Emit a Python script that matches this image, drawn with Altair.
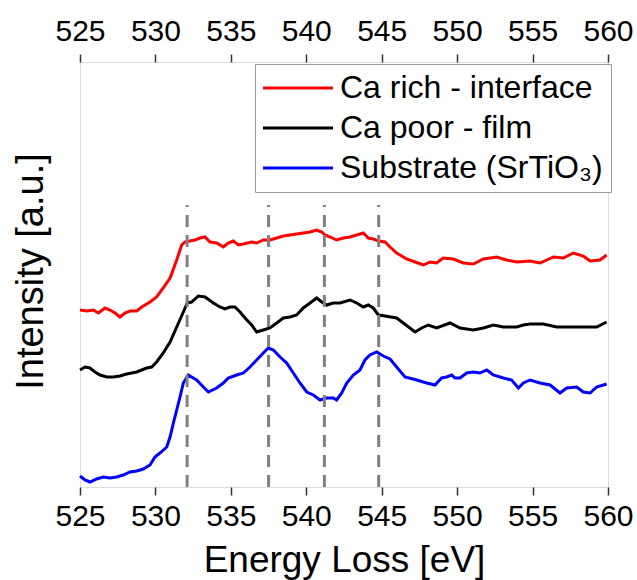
import altair as alt
import pandas as pd

FONT = "Liberation Sans"

# ---- data ----
series_names = ["Ca rich - interface", "Ca poor - film", "Substrate (SrTiO₃)"]
series_colors = ["#ff0000", "#000000", "#0000ff"]

red_energy = [525.00, 525.44, 525.88, 526.22, 526.66, 526.99, 527.32, 527.65, 527.98, 528.31,
              528.76, 529.09, 529.64, 530.08, 530.52, 530.97, 531.41, 531.74, 531.96, 532.29,
              532.62, 532.95, 533.29, 533.62, 534.06, 534.50, 534.83, 535.16, 535.50, 535.83,
              536.38, 536.71, 537.15, 537.59, 538.04, 538.48, 538.92, 539.36, 539.80, 540.25,
              540.69, 541.02, 541.24, 541.57, 542.01, 542.46, 542.90, 543.34, 543.78, 544.11,
              544.44, 544.78, 545.22, 545.55, 545.99, 546.65, 547.21, 547.76, 548.20, 548.64,
              549.08, 549.75, 550.41, 551.07, 551.74, 552.62, 553.28, 553.95, 554.83, 555.49,
              556.38, 557.04, 557.70, 558.36, 558.81, 559.47, 559.91]
red_intensity = [1.77, 1.76, 1.77, 1.74, 1.79, 1.77, 1.74, 1.70, 1.74, 1.76,
                 1.76, 1.80, 1.85, 1.90, 1.99, 2.09, 2.27, 2.42, 2.45, 2.46,
                 2.47, 2.49, 2.50, 2.45, 2.44, 2.40, 2.44, 2.46, 2.42, 2.43,
                 2.45, 2.44, 2.47, 2.47, 2.49, 2.51, 2.52, 2.53, 2.54, 2.55,
                 2.57, 2.55, 2.52, 2.50, 2.47, 2.49, 2.50, 2.52, 2.54, 2.49,
                 2.48, 2.46, 2.45, 2.40, 2.34, 2.28, 2.25, 2.22, 2.25, 2.24,
                 2.29, 2.28, 2.24, 2.23, 2.28, 2.30, 2.27, 2.25, 2.26, 2.24,
                 2.30, 2.29, 2.34, 2.31, 2.26, 2.27, 2.32]

black_energy = [525.00, 525.33, 525.66, 525.99, 526.33, 526.77, 527.21, 527.65, 528.09, 528.42,
                528.76, 529.09, 529.42, 529.75, 530.08, 530.52, 530.97, 531.41, 531.85, 532.11,
                532.40, 532.84, 533.29, 533.84, 534.28, 534.61, 534.94, 535.27, 535.61, 535.94,
                536.38, 536.71, 537.15, 537.59, 538.04, 538.48, 538.92, 539.36, 539.80, 540.25,
                540.69, 541.02, 541.35, 541.79, 542.23, 542.90, 543.34, 543.78, 544.11, 544.44,
                544.78, 545.22, 545.99, 546.43, 547.21, 547.65, 548.09, 548.64, 549.53, 550.19,
                551.07, 551.74, 552.40, 553.06, 553.95, 554.39, 554.83, 555.71, 556.60, 557.48,
                558.36, 559.25, 559.91]
black_intensity = [1.17, 1.20, 1.19, 1.15, 1.12, 1.10, 1.10, 1.11, 1.13, 1.14,
                   1.15, 1.17, 1.19, 1.20, 1.25, 1.34, 1.45, 1.60, 1.75, 1.84,
                   1.85, 1.91, 1.90, 1.84, 1.80, 1.78, 1.80, 1.80, 1.75, 1.69,
                   1.62, 1.55, 1.57, 1.59, 1.64, 1.69, 1.70, 1.72, 1.79, 1.84,
                   1.89, 1.85, 1.82, 1.84, 1.84, 1.87, 1.84, 1.80, 1.82, 1.79,
                   1.72, 1.71, 1.69, 1.64, 1.55, 1.59, 1.62, 1.59, 1.64, 1.59,
                   1.57, 1.59, 1.62, 1.60, 1.60, 1.62, 1.63, 1.63, 1.60, 1.60,
                   1.60, 1.60, 1.65]

blue_energy = [525.00, 525.33, 525.66, 526.10, 526.55, 526.99, 527.43, 527.87, 528.31, 528.76,
               529.20, 529.64, 529.97, 530.30, 530.75, 530.97, 531.19, 531.41, 531.63, 531.85,
               532.18, 532.40, 532.73, 533.18, 533.51, 534.06, 534.50, 534.83, 535.39, 535.83,
               536.27, 536.71, 537.15, 537.48, 537.82, 538.26, 538.70, 539.14, 539.58, 540.03,
               540.47, 540.91, 541.35, 541.79, 542.01, 542.35, 542.68, 543.12, 543.56, 543.89,
               544.22, 544.67, 545.11, 545.55, 545.99, 546.54, 547.32, 547.98, 548.53, 548.97,
               549.31, 549.64, 549.86, 550.19, 550.63, 551.07, 551.51, 551.96, 552.40, 553.06,
               553.61, 554.06, 554.39, 554.83, 555.49, 556.16, 556.82, 557.26, 557.92, 558.36,
               558.81, 559.25, 559.91]
blue_intensity = [0.11, 0.07, 0.05, 0.08, 0.10, 0.09, 0.10, 0.12, 0.15, 0.16,
                  0.18, 0.22, 0.30, 0.34, 0.40, 0.50, 0.64, 0.77, 0.90, 1.04,
                  1.12, 1.10, 1.07, 1.00, 0.95, 0.99, 1.04, 1.09, 1.12, 1.14,
                  1.20, 1.27, 1.34, 1.39, 1.37, 1.30, 1.24, 1.14, 1.04, 0.95,
                  0.92, 0.87, 0.89, 0.89, 0.87, 0.94, 1.04, 1.12, 1.17, 1.27,
                  1.32, 1.35, 1.31, 1.28, 1.20, 1.10, 1.07, 1.04, 1.02, 1.09,
                  1.10, 1.12, 1.09, 1.09, 1.14, 1.15, 1.14, 1.17, 1.12, 1.09,
                  1.07, 0.99, 1.04, 1.07, 1.04, 1.02, 0.94, 0.99, 1.00, 0.95,
                  0.94, 1.00, 1.03]

marker_energy = [532.1, 537.5, 541.2, 544.8]
marker_top = 2.82

x_ticks = [525, 530, 535, 540, 545, 550, 555, 560]

# ---- tables ----
rows = []
for name, ens, ints in [(series_names[0], red_energy, red_intensity),
                        (series_names[1], black_energy, black_intensity),
                        (series_names[2], blue_energy, blue_intensity)]:
    for e, v in zip(ens, ints):
        rows.append({"energy": e, "intensity": v, "series": name})
df = pd.DataFrame(rows)
markers = pd.DataFrame({"energy": marker_energy, "y0": [0.0] * len(marker_energy),
                        "y1": [marker_top] * len(marker_energy)})

xscale = alt.Scale(domain=[525, 560], nice=False, zero=False)
yscale = alt.Scale(domain=[0, 4.25], nice=False, zero=False)


def y_axis():
    return alt.Axis(labels=False, ticks=False, domain=False, grid=False,
                    title="Intensity [a.u.]", titleFontSize=38, titleFont=FONT,
                    titleFontWeight="normal", titleColor="#000000",
                    titleX=-38, titleY=209, titleAngle=-90,
                    titleBaseline="alphabetic", titleAlign="center")


lines = alt.Chart(df).mark_line(strokeWidth=3, interpolate="linear").encode(
    x=alt.X("energy:Q", scale=xscale,
            axis=alt.Axis(orient="bottom", values=x_ticks, title="Energy Loss [eV]",
                          tickSize=8, tickWidth=1.5, tickColor="#333333",
                          domain=False, grid=False,
                          labelFontSize=30, labelFont=FONT, labelColor="#000000",
                          labelPadding=6, labelFlush=False,
                          titleFontSize=37, titleFont=FONT, titleFontWeight="normal",
                          titleColor="#000000", titleY=84, titleBaseline="alphabetic")),
    y=alt.Y("intensity:Q", scale=yscale, axis=y_axis(), title="Intensity [a.u.]"),
    color=alt.Color("series:N",
                    scale=alt.Scale(domain=series_names, range=series_colors),
                    sort=series_names,
                    legend=alt.Legend(title=None, orient="none", legendX=175, legendY=2,
                                      symbolType="M-2.414,0H2.414", symbolSize=841,
                                      symbolStrokeWidth=3, symbolOffset=19,
                                      labelFontSize=32,
                                      labelFont=FONT, labelColor="#000000",
                                      labelOffset=26, labelLimit=500, rowPadding=8,
                                      padding=8, strokeColor="#9a9a9a",
                                      fillColor="#ffffff")),
)

rules = alt.Chart(markers).mark_rule(strokeWidth=3, color="#808080",
                                     strokeDash=[12, 8]).encode(
    x=alt.X("energy:Q", scale=xscale,
            axis=alt.Axis(orient="top", values=x_ticks, title=None,
                          tickSize=8, tickWidth=1.5, tickColor="#333333",
                          domain=False, grid=False,
                          labelFontSize=30, labelFont=FONT, labelColor="#000000",
                          labelPadding=8, labelFlush=False)),
    y=alt.Y("y0:Q", scale=yscale, axis=y_axis(), title="Intensity [a.u.]"),
    y2="y1:Q",
)

chart = alt.layer(lines, rules).resolve_axis(x="independent").properties(
    width=528, height=425,
    autosize=alt.AutoSizeParams(type="none"),
    padding={"left": 80, "top": 62, "right": 29, "bottom": 93},
).configure_view(stroke="#333333", strokeWidth=1.5).configure(background="#ffffff")

chart.save("out.html", embed_options={"renderer": "svg", "actions": False})
